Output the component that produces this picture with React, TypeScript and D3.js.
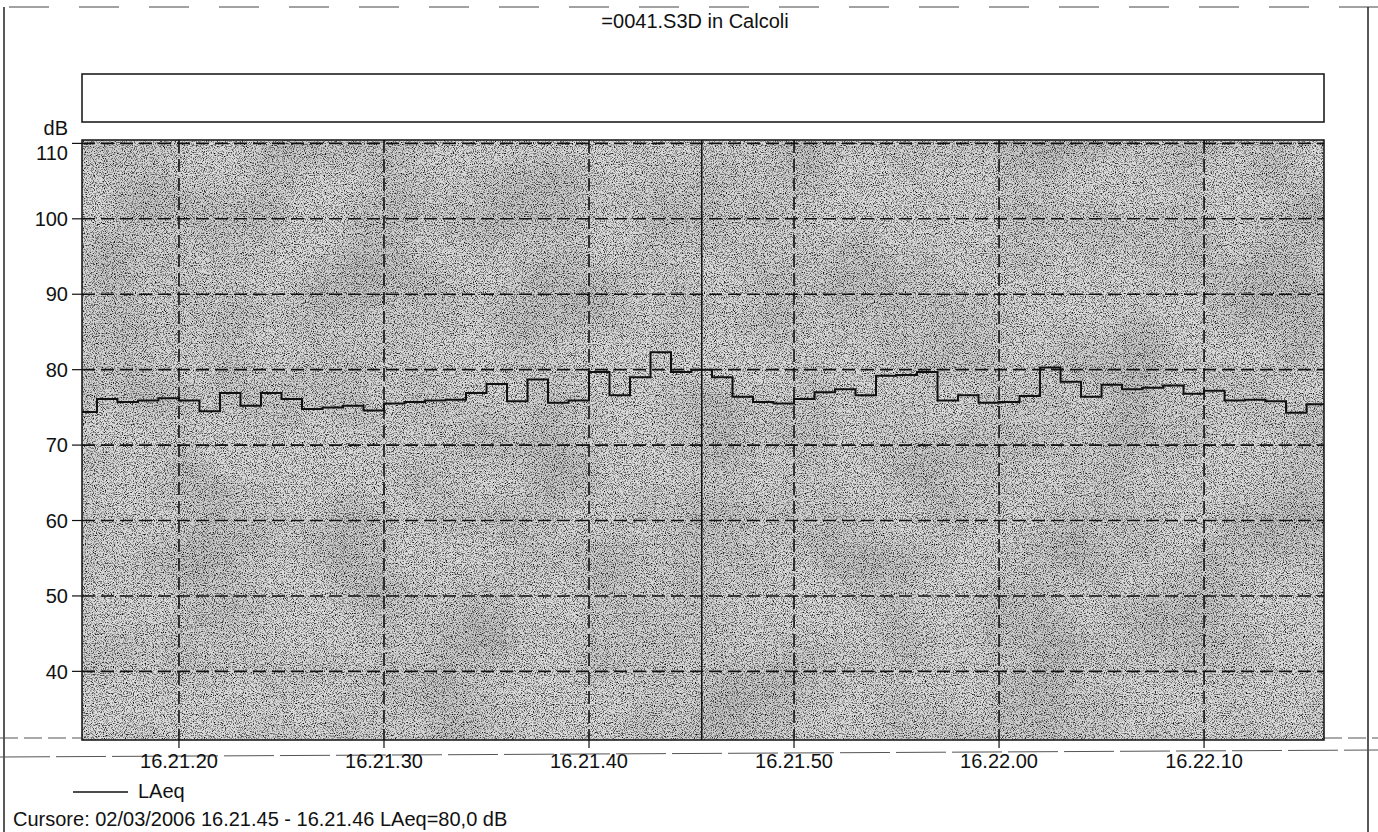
import React from "react";
import * as d3 from "d3";

// seconds after 16.21.00 at which each 1 s LAeq interval starts
const seconds = [
  15, 16, 17, 18, 19, 20, 21, 22, 23, 24, 25, 26, 27, 28, 29, 30, 31, 32, 33, 34,
  35, 36, 37, 38, 39, 40, 41, 42, 43, 44, 45, 46, 47, 48, 49, 50, 51, 52, 53, 54,
  55, 56, 57, 58, 59, 60, 61, 62, 63, 64, 65, 66, 67, 68, 69, 70, 71, 72, 73, 74, 75,
];
const laeq = [
  74.4, 76.1, 75.7, 75.9, 76.2, 75.9, 74.5, 76.9, 75.2, 76.9, 76.1, 74.8, 75.0, 75.2, 74.6,
  75.5, 75.7, 75.9, 76.0, 76.9, 78.1, 75.8, 78.7, 75.6, 75.9, 79.7, 76.6, 79.0, 82.3, 79.7,
  80.0, 79.0, 76.4, 75.7, 75.5, 76.1, 77.0, 77.4, 76.6, 79.2, 79.3, 79.7, 75.9, 76.6, 75.6,
  75.7, 76.5, 80.3, 78.4, 76.4, 78.0, 77.4, 77.6, 77.9, 76.8, 77.2, 75.9, 76.0, 75.8, 74.3, 75.4,
];
const xTicks = [20, 30, 40, 50, 60, 70];
const xTickLabels = ["16.21.20", "16.21.30", "16.21.40", "16.21.50", "16.22.00", "16.22.10"];
const yTicks = [40, 50, 60, 70, 80, 90, 100, 110];
const xDomain = [15.27, 75.85];
const yDomain = [30.9, 110.45];
const cursorTime = 45.5;

const title = "=0041.S3D in Calcoli";
const seriesName = "LAeq";
const cursorText = "Cursore: 02/03/2006 16.21.45 - 16.21.46  LAeq=80,0 dB";
const yUnit = "dB";

const W = 1378;
const H = 832;
const FONT = "'Liberation Sans', Arial, Helvetica, sans-serif";

export default function App() {
  const left = 82, right = 1324, top = 140, bottom = 740;
  const x = d3.scaleLinear().domain(xDomain).range([left, right]);
  const y = d3.scaleLinear().domain(yDomain).range([bottom, top]);

  const pts: [number, number][] = seconds.map((s, i) => [Math.max(s, xDomain[0]), laeq[i]]);
  pts.push([xDomain[1], laeq[laeq.length - 1]]);
  const line = d3
    .line<[number, number]>()
    .x((d) => x(d[0]))
    .y((d) => y(d[1]))
    .curve(d3.curveStepAfter);

  return (
    <svg width={W} height={H} style={{ display: "block", position: "absolute", left: 0, top: 0, background: "#fff" }}>
      <defs>
        <filter id="noise" filterUnits="userSpaceOnUse" x={left} y={top} width={right - left} height={bottom - top}>
          <feTurbulence type="fractalNoise" baseFrequency="0.9" numOctaves="2" seed="7" result="n" />
          <feColorMatrix in="n" type="matrix" values="0 0 0 0 0  0 0 0 0 0  0 0 0 0 0  2.8 0 0 0 -1.31" />
        </filter>
        <filter id="clouds" filterUnits="userSpaceOnUse" x={left} y={top} width={right - left} height={bottom - top}>
          <feTurbulence type="fractalNoise" baseFrequency="0.012" numOctaves="2" seed="3" result="c" />
          <feColorMatrix in="c" type="matrix" values="0 0 0 0 0  0 0 0 0 0  0 0 0 0 0  1.2 0 0 0 -0.45" />
        </filter>
      </defs>

      {/* page frame lines (scan) */}
      <line x1={9} x2={W} y1={7} y2={7} stroke="#444" strokeWidth={1} strokeDasharray="40 30" />
      <line x1={4} x2={4} y1={7} y2={H} stroke="#222" strokeWidth={1.5} />
      <line x1={1368} x2={1368} y1={7} y2={H} stroke="#222" strokeWidth={1.5} />
      <line x1={0} x2={W} y1={757} y2={750} stroke="#555" strokeWidth={1} strokeDasharray="50 6" />
      <line x1={0} x2={left} y1={738} y2={738} stroke="#555" strokeWidth={1} strokeDasharray="18 6" />
      <line x1={right} x2={W} y1={738} y2={738} stroke="#555" strokeWidth={1} strokeDasharray="18 6" />

      {/* title */}
      <text x={695} y={28} textAnchor="middle" fontFamily={FONT} fontSize={20} fill="#111">
        {title}
      </text>

      {/* empty header box */}
      <rect x={left} y={74} width={right - left} height={48} fill="#fff" stroke="#111" strokeWidth={1.5} />

      {/* plot background */}
      <rect x={left} y={top} width={right - left} height={bottom - top} fill="#dcdcdc" />
      <rect x={left} y={top} width={right - left} height={bottom - top} fill="#000" filter="url(#clouds)" opacity={0.2} />
      <rect x={left} y={top} width={right - left} height={bottom - top} fill="#000" filter="url(#noise)" />

      {/* grid */}
      {yTicks.map((v) => (
        <line key={"gy" + v} x1={left} x2={right} y1={y(v)} y2={y(v)} stroke="#111" strokeWidth={1.6} strokeDasharray="13 6" />
      ))}
      {xTicks.map((t) => (
        <line key={"gx" + t} x1={x(t)} x2={x(t)} y1={top} y2={bottom} stroke="#111" strokeWidth={1.6} strokeDasharray="13 6" />
      ))}

      {/* cursor */}
      <line x1={x(cursorTime)} x2={x(cursorTime)} y1={top} y2={bottom} stroke="#111" strokeWidth={1.5} />

      {/* series */}
      <path d={line(pts) || ""} fill="none" stroke="#111" strokeWidth={2} />

      {/* plot border */}
      <rect x={left} y={top} width={right - left} height={bottom - top} fill="none" stroke="#111" strokeWidth={1.5} />

      {/* y axis */}
      {yTicks.map((v) => (
        <g key={"ty" + v}>
          <line x1={left - 10} x2={left} y1={y(v)} y2={y(v)} stroke="#111" strokeWidth={1.2} />
          <text
            x={left - 14}
            y={Math.max(y(v), top + 13)}
            dy="0.36em"
            textAnchor="end"
            fontFamily={FONT}
            fontSize={20}
            fill="#111"
          >
            {v}
          </text>
        </g>
      ))}
      <text x={left - 14} y={135} textAnchor="end" fontFamily={FONT} fontSize={20} fill="#111">
        {yUnit}
      </text>

      {/* x axis */}
      {xTicks.map((t, i) => (
        <g key={"tx" + t}>
          <line x1={x(t)} x2={x(t)} y1={bottom} y2={bottom + 8} stroke="#111" strokeWidth={1.2} />
          <text x={x(t)} y={768} textAnchor="middle" fontFamily={FONT} fontSize={20} fill="#111">
            {xTickLabels[i]}
          </text>
        </g>
      ))}

      {/* legend */}
      <line x1={73} x2={128} y1={792} y2={792} stroke="#111" strokeWidth={1.5} />
      <text x={138} y={798} fontFamily={FONT} fontSize={20} fill="#111">
        {seriesName}
      </text>

      {/* cursor readout */}
      <text x={13} y={826} fontFamily={FONT} fontSize={20} fill="#111">
        {cursorText}
      </text>
    </svg>
  );
}
